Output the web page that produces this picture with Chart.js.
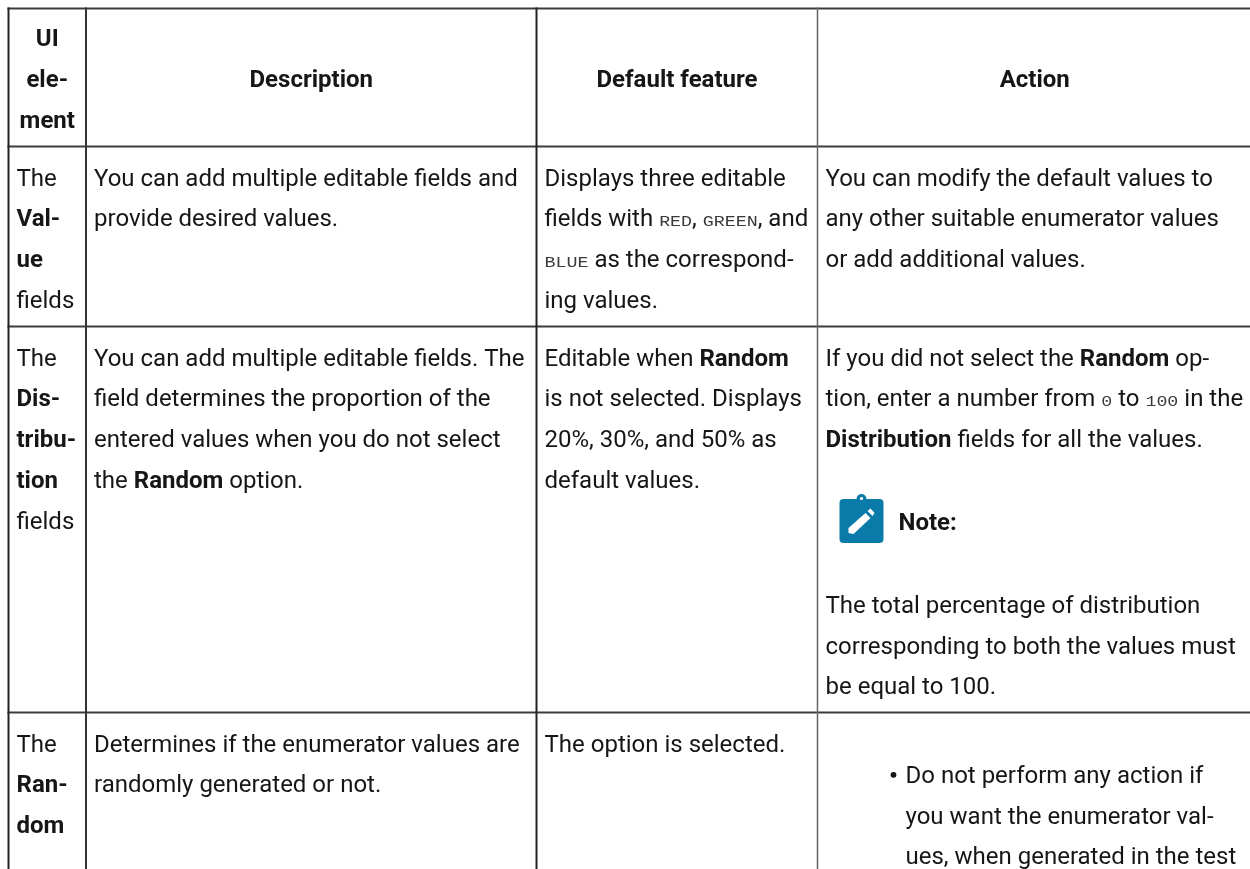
<!DOCTYPE html>
<html>
<head>
<meta charset="utf-8">
<title>UI element table</title>
<script src="https://cdn.jsdelivr.net/npm/chart.js@4"></script>
<style>
  html, body { margin: 0; padding: 0; background: #fff; overflow: hidden; }
  canvas { display: block; }
</style>
</head>
<body>
<canvas id="chart" width="1250" height="869"></canvas>
<script>
// table rules
const colEdges = [8.5, 86, 536.5, 817.5];
const rowEdges = [8.5, 146.5, 326.5, 712.5];
const colColors = ['#222222', '#333333', '#222222', '#666666'];

const headers = [['UI', 'ele-', 'ment'], ['Description'], ['Default feature'], ['Action']];

// runs: r = regular, b = bold, m = monospace
const col1 = [
  [[['r', 'The']], [['b', 'Val-']], [['b', 'ue']], [['r', 'fields']]],
  [[['r', 'The']], [['b', 'Dis-']], [['b', 'tribu-']], [['b', 'tion']], [['r', 'fields']]],
  [[['r', 'The']], [['b', 'Ran-']], [['b', 'dom']]],
];
const col2 = [
  [[['r', 'You can add multiple editable fields and']], [['r', 'provide desired values.']]],
  [[['r', 'You can add multiple editable fields. The']], [['r', 'field determines the proportion of the']],
   [['r', 'entered values when you do not select']], [['r', 'the '], ['b', 'Random'], ['r', ' option.']]],
  [[['r', 'Determines if the enumerator values are']], [['r', 'randomly generated or not.']]],
];
const col3 = [
  [[['r', 'Displays three editable']],
   [['r', 'fields with '], ['m', 'RED'], ['r', ', '], ['m', 'GREEN'], ['r', ', and']],
   [['m', 'BLUE'], ['r', ' as the correspond-']], [['r', 'ing values.']]],
  [[['r', 'Editable when '], ['b', 'Random']], [['r', 'is not selected. Displays']],
   [['r', '20%, 30%, and 50% as']], [['r', 'default values.']]],
  [[['r', 'The option is selected.']]],
];
const col4 = [
  [[['r', 'You can modify the default values to']], [['r', 'any other suitable enumerator values']],
   [['r', 'or add additional values.']]],
  [[['r', 'If you did not select the '], ['b', 'Random'], ['r', ' op-']],
   [['r', 'tion, enter a number from '], ['m', '0'], ['r', ' to '], ['m', '100'], ['r', ' in the']],
   [['b', 'Distribution'], ['r', ' fields for all the values.']]],
];
const noteLabel = 'Note:';
const noteBody = [
  [['r', 'The total percentage of distribution']],
  [['r', 'corresponding to both the values must']],
  [['r', 'be equal to 100.']],
];
const bulletLines = [
  [['r', 'Do not perform any action if']],
  [['r', 'you want the enumerator val-']],
  [['r', 'ues, when generated in the test']],
];

const PAGE_W = 1250, PAGE_H = 869;
const LINE_H = 40.8;
const CELL_PAD = 8;
const FONT_SIZE = 24;
const fonts = {
  r: FONT_SIZE + 'px Roboto',
  b: 'bold ' + FONT_SIZE + 'px Roboto',
  m: '15px "Liberation Mono"',
};
const MONO_STRETCH = 1.22;
const TEXT_COLOR = '#161616';
const MONO_COLOR = '#3a3a3a';

// one dataset per rule so they all go through the scales
const rules = [];
colEdges.forEach((x, i) => rules.push({
  data: [{ x: x, y: rowEdges[0] - 1 }, { x: x, y: PAGE_H }],
  borderColor: colColors[i],
  borderWidth: i === 3 ? 1.5 : 2,
}));
rowEdges.forEach(y => rules.push({
  data: [{ x: colEdges[0] - 1, y: y }, { x: PAGE_W, y: y }],
  borderColor: '#3c3c3c',
  borderWidth: 2,
}));

function drawRuns(ctx, runs, x, y) {
  runs.forEach(([kind, text]) => {
    ctx.font = fonts[kind];
    if (kind === 'm') {
      // the code font in the picture is wider than anything installed
      ctx.save();
      ctx.translate(x, y);
      ctx.scale(MONO_STRETCH, 1);
      ctx.fillStyle = MONO_COLOR;
      ctx.fillText(text, 0, 0);
      ctx.restore();
      x += ctx.measureText(text).width * MONO_STRETCH;
    } else {
      ctx.fillText(text, x, y);
      x += ctx.measureText(text).width;
    }
  });
  return x;
}

function drawBlock(ctx, lines, x, y) {
  lines.forEach((runs, i) => drawRuns(ctx, runs, x, y + i * LINE_H));
}

function drawNoteIcon(ctx, x, y) {
  ctx.fillStyle = '#0a7ba8';
  ctx.beginPath();
  ctx.roundRect(x, y, 44, 44, 4);
  ctx.fill();
  ctx.beginPath();
  ctx.arc(x + 22, y, 5, Math.PI, 0);
  ctx.fill();
  ctx.fillStyle = '#ffffff';
  ctx.beginPath();
  ctx.arc(x + 22, y - 0.5, 1.6, 0, Math.PI * 2);
  ctx.fill();
  // pencil
  ctx.beginPath();
  ctx.moveTo(x + 9, y + 34);
  ctx.lineTo(x + 9, y + 29);
  ctx.lineTo(x + 26, y + 14);
  ctx.lineTo(x + 31, y + 19);
  ctx.lineTo(x + 14, y + 35);
  ctx.closePath();
  ctx.fill();
  ctx.beginPath();
  ctx.moveTo(x + 28, y + 12);
  ctx.lineTo(x + 31, y + 9.5);
  ctx.lineTo(x + 35, y + 14);
  ctx.lineTo(x + 33, y + 17);
  ctx.closePath();
  ctx.fill();
}

const tableText = {
  id: 'tableText',
  afterDatasetsDraw(chart) {
    const ctx = chart.ctx;
    const px = v => chart.scales.x.getPixelForValue(v);
    const py = v => chart.scales.y.getPixelForValue(v);
    ctx.save();
    ctx.fillStyle = TEXT_COLOR;
    ctx.textBaseline = 'alphabetic';

    // header row, centred in each cell
    const colRight = colEdges.concat([PAGE_W + 2]);
    headers.forEach((lines, c) => {
      const centre = (px(colEdges[c]) + px(colRight[c + 1])) / 2;
      const midY = (py(rowEdges[0]) + py(rowEdges[1])) / 2;
      ctx.textAlign = 'center';
      ctx.font = fonts.b;
      lines.forEach((t, i) => ctx.fillText(t, centre, midY + 9.3 + (i - (lines.length - 1) / 2) * LINE_H));
    });
    ctx.textAlign = 'left';

    // body rows
    [col1, col2, col3, col4].forEach((col, c) => {
      col.forEach((lines, r) => {
        drawBlock(ctx, lines, px(colEdges[c]) + CELL_PAD, py(rowEdges[r + 1]) + 39);
      });
    });

    // note inside the action cell of row 2
    const noteX = px(colEdges[3]) + CELL_PAD;
    const rowTop = py(rowEdges[2]);
    drawNoteIcon(ctx, noteX + 14, rowTop + 172.5);
    ctx.fillStyle = TEXT_COLOR;
    ctx.font = fonts.b;
    ctx.fillText(noteLabel, noteX + 73, rowTop + 203);
    drawBlock(ctx, noteBody, noteX, rowTop + 286.3);

    // bullet list in the action cell of row 3
    const listX = noteX + 80;
    const listY = py(rowEdges[3]) + 70.3;
    ctx.beginPath();
    ctx.arc(listX - 12, listY - 8, 2.9, 0, Math.PI * 2);
    ctx.fill();
    drawBlock(ctx, bulletLines, listX, listY);
    ctx.restore();
  },
};

new Chart(document.getElementById('chart'), {
  type: 'scatter',
  data: {
    datasets: rules.map(r => ({ ...r, showLine: true, pointRadius: 0, borderCapStyle: 'butt', clip: false })),
  },
  options: {
    responsive: false,
    animation: false,
    events: [],
    layout: { padding: 0 },
    plugins: { legend: { display: false }, tooltip: { enabled: false }, title: { display: false } },
    scales: {
      x: { type: 'linear', min: 0, max: PAGE_W, display: false },
      y: { type: 'linear', min: 0, max: PAGE_H, reverse: true, display: false },
    },
  },
  plugins: [tableText],
});
</script>
</body>
</html>
